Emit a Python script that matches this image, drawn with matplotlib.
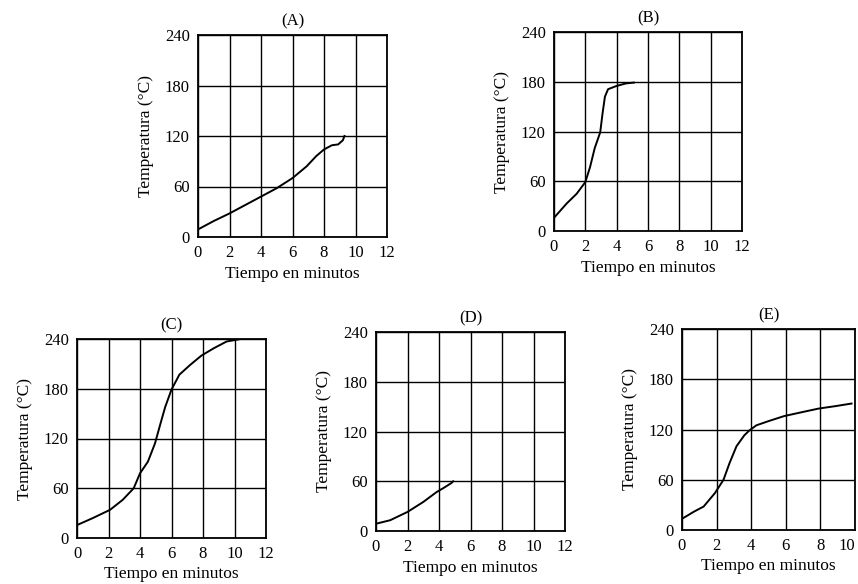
import matplotlib
matplotlib.use("Agg")
import matplotlib.pyplot as plt

# heating curves (minutes, degrees C)
a_t = [0.1, 1.0, 2.0, 3.0, 4.0, 5.0, 6.0, 6.9, 7.5, 8.0, 8.5, 8.9, 9.2, 9.3]
a_T = [10, 19, 28, 38, 48, 58, 70, 84, 96, 104, 109, 110, 115, 120]

b_t = [0.05, 0.8, 1.45, 2.0, 2.3, 2.6, 2.95, 3.1, 3.25, 3.45, 4.0, 4.6, 5.1]
b_T = [17, 33, 45, 59, 77, 100, 119, 142, 162, 171, 175, 178, 179]

c_t = [0.05, 1.0, 2.1, 2.9, 3.6, 4.0, 4.5, 4.95, 5.3, 5.6, 6.0, 6.5, 7.2, 7.9, 8.7, 9.5, 10.4]
c_T = [16, 24, 34, 46, 60, 78, 92, 114, 138, 158, 179, 197, 209, 220, 229, 237, 240]

d_t = [0.05, 0.9, 2.0, 3.0, 3.85, 4.3, 4.8, 4.9]
d_T = [9, 13, 23, 35, 47, 52, 58, 60]

e_t = [0.05, 0.7, 1.25, 1.9, 2.4, 2.75, 3.15, 3.6, 3.9, 4.3, 5.0, 5.9, 7.0, 7.9, 8.9, 9.8]
e_T = [14, 22, 28, 44, 60, 80, 100, 113, 119, 125, 130, 136, 141, 145, 148, 151]

y_ticks = [0, 60, 120, 180, 240]
x_ticks_12 = [0, 2, 4, 6, 8, 10, 12]
x_ticks_10 = [0, 2, 4, 6, 8, 10]

W, H = 858, 584
plt.rcParams["font.family"] = ["Liberation Serif", "DejaVu Serif"]


def panel(fig, box, t, T, title, xticks):
    """box = (left, top, right, bottom) in pixels."""
    l, tp, r, b = box
    ax = fig.add_axes([l / W, 1 - b / H, (r - l) / W, (b - tp) / H])
    ax.plot(t, T, color="black", lw=1.4)
    ax.set_xlim(xticks[0], xticks[-1])
    ax.set_ylim(0, 240)
    ax.set_xticks(xticks)
    ax.set_yticks(y_ticks)
    ax.grid(True, color="black", lw=1.0)
    ax.set_axisbelow(True)
    for s in ax.spines.values():
        s.set_linewidth(1.3)
    ax.tick_params(length=0, labelsize=12, pad=6)
    ax.set_title(title, fontsize=12, pad=7)
    ax.set_ylabel("Temperatura (°C)", fontsize=12.5, labelpad=8)
    ax.set_xlabel("Tiempo en minutos", fontsize=12.5, labelpad=3)
    return ax


fig = plt.figure(figsize=(W / 100, H / 100), dpi=100)

panel(fig, (198, 35, 387, 237), a_t, a_T, "(A)", x_ticks_12)
panel(fig, (554, 32, 742, 231), b_t, b_T, "(B)", x_ticks_12)
panel(fig, (77, 339, 266, 538), c_t, c_T, "(C)", x_ticks_12)
panel(fig, (376, 332, 565, 531), d_t, d_T, "(D)", x_ticks_12)
ax_e = panel(fig, (682, 329, 855, 530), e_t, e_T, "(E)", x_ticks_10)
# last tick label of (E) sits against the right edge of the page
ax_e.get_xticklabels()[-1].set_horizontalalignment("right")

fig.savefig("out.png", dpi=100)
